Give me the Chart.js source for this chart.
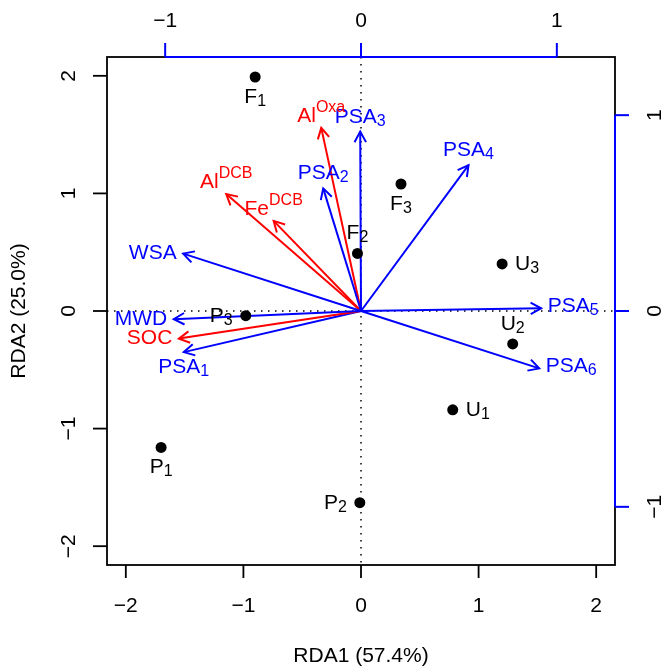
<!DOCTYPE html>
<html>
<head>
<meta charset="utf-8">
<script src="https://cdn.jsdelivr.net/npm/chart.js@4.4.1/dist/chart.umd.min.js"></script>
<style>
  html, body { margin: 0; padding: 0; background: #fff; }
  canvas { display: block; }
</style>
</head>
<body>
<canvas id="rda" width="667" height="667"></canvas>
<script>
// site scores (bottom / left axes)
const siteBase = ['F', 'F', 'F', 'U', 'U', 'U', 'P', 'P', 'P'];
const siteSub = ['1', '2', '3', '1', '2', '3', '1', '2', '3'];
const siteX = [-0.90, -0.03, 0.34, 0.78, 1.29, 1.20, -1.70, -0.01, -0.98];
const siteY = [1.99, 0.49, 1.08, -0.84, -0.28, 0.40, -1.16, -1.63, -0.04];

// explanatory variable arrows (top / right axes)
const varBase = ['WSA', 'MWD', 'SOC', 'PSA', 'PSA', 'PSA', 'PSA', 'PSA', 'PSA', 'Al', 'Al', 'Fe'];
const varSub = ['', '', '', '1', '2', '3', '4', '5', '6', '', '', ''];
const varSup = ['', '', '', '', '', '', '', '', '', 'Oxa', 'DCB', 'DCB'];
const varX = [-0.908, -0.956, -0.930, -0.905, -0.193, -0.004, 0.549, 0.920, 0.910, -0.203, -0.688, -0.446];
const varY = [0.293, -0.042, -0.141, -0.210, 0.626, 0.916, 0.745, 0.014, -0.293, 0.935, 0.597, 0.460];

// axes
const mainTicks = [-2, -1, 0, 1, 2];
const varTicks = [-1, 0, 1];
const xTitle = 'RDA1 (57.4%)';
const yTitle = 'RDA2 (25.0%)';

// styling
const BLUE = '#0000ff';
const RED = '#ff0000';
const redVars = [2, 9, 10, 11]; // SOC and the Al/Fe oxides
const sitePos = [1, 3, 1, 4, 3, 4, 1, 2, 2];   // R text() pos codes
const varPos = [2, 2, 2, 1, 3, 3, 3, 4, 4, 3, 3, 3];
const FONT = '"Liberation Sans", Arial, Helvetica, sans-serif';
const MINUS = '\u2212';

const fmt = v => (v < 0 ? MINUS + Math.abs(v) : String(v));

// text with optional sub- or superscript, placed like R's text(pos=)
function drawLabel(ctx, x, y, base, sub, sup, pos, offH, offV, dy, color) {
  const F = 21, S = 16, SUB_DROP = 3, SUP_RAISE = 10;
  ctx.font = F + 'px ' + FONT;
  const wb = ctx.measureText(base).width;
  const ext = sub || sup;
  let we = 0;
  if (ext) {
    ctx.font = S + 'px ' + FONT;
    we = ctx.measureText(ext).width;
  }
  const w = wb + we;
  const top = sup ? -(SUP_RAISE + 0.716 * S) : -0.716 * F;
  const bottom = sub ? SUB_DROP : 0;
  let left, by;
  if (pos === 1) { left = x - w / 2; by = y + offV - top; }
  else if (pos === 3) { left = x - w / 2; by = y - offV - bottom; }
  else if (pos === 2) { left = x - offH - w; by = y + dy - (top + bottom) / 2; }
  else { left = x + offH; by = y + dy - (top + bottom) / 2; }
  ctx.fillStyle = color;
  ctx.textAlign = 'left';
  ctx.textBaseline = 'alphabetic';
  ctx.font = F + 'px ' + FONT;
  ctx.fillText(base, left, by);
  if (ext) {
    ctx.font = S + 'px ' + FONT;
    ctx.fillText(ext, left + wb, by + (sub ? SUB_DROP : -SUP_RAISE));
  }
}

function line(ctx, x1, y1, x2, y2) {
  ctx.beginPath();
  ctx.moveTo(x1, y1);
  ctx.lineTo(x2, y2);
  ctx.stroke();
}

function rotText(ctx, txt, x, y) {
  ctx.save();
  ctx.translate(x, y);
  ctx.rotate(-Math.PI / 2);
  ctx.fillText(txt, 0, 0);
  ctx.restore();
}

const biplotDecor = {
  id: 'biplotDecor',
  beforeDatasetsDraw(chart) {
    const { ctx, chartArea: a, scales } = chart;
    const x0 = scales.x.getPixelForValue(0);
    const y0 = scales.y.getPixelForValue(0);
    ctx.save();
    ctx.strokeStyle = '#000';
    ctx.lineWidth = 1.5;
    ctx.setLineDash([1.5, 5.5]);
    line(ctx, x0, a.top, x0, a.bottom);
    line(ctx, a.left, y0, a.right, y0);
    ctx.restore();
  },
  afterDatasetsDraw(chart) {
    const { ctx, chartArea: a, scales } = chart;
    ctx.save();

    // arrow heads and variable labels
    for (let i = 0; i < varX.length; i++) {
      const pts = chart.getDatasetMeta(i + 1).data;
      const p0 = pts[0], p1 = pts[1];
      const col = redVars.includes(i) ? RED : BLUE;
      const ang = Math.atan2(p1.y - p0.y, p1.x - p0.x);
      const L = 12, h = 0.5;
      ctx.strokeStyle = col;
      ctx.lineWidth = 2;
      ctx.beginPath();
      ctx.moveTo(p1.x - L * Math.cos(ang - h), p1.y - L * Math.sin(ang - h));
      ctx.lineTo(p1.x, p1.y);
      ctx.lineTo(p1.x - L * Math.cos(ang + h), p1.y - L * Math.sin(ang + h));
      ctx.stroke();
      drawLabel(ctx, p1.x, p1.y, varBase[i], varSub[i], varSup[i], varPos[i], 6.5, 6, -2, col);
    }

    // site labels
    const sp = chart.getDatasetMeta(0).data;
    sp.forEach((p, i) => {
      drawLabel(ctx, p.x, p.y, siteBase[i], siteSub[i], '', sitePos[i], 13, 11, 0, '#000');
    });

    // frame
    ctx.strokeStyle = '#000';
    ctx.lineWidth = 1.8;
    ctx.strokeRect(a.left, a.top, a.right - a.left, a.bottom - a.top);

    // bottom and left axes
    ctx.fillStyle = '#000';
    ctx.font = '21px ' + FONT;
    ctx.textAlign = 'center';
    ctx.textBaseline = 'alphabetic';
    mainTicks.forEach(v => {
      const px = scales.x.getPixelForValue(v);
      line(ctx, px, a.bottom, px, a.bottom + 13);
      ctx.fillText(fmt(v), px, a.bottom + 47);
      const py = scales.y.getPixelForValue(v);
      line(ctx, a.left, py, a.left - 14, py);
      rotText(ctx, fmt(v), a.left - 32, py);
    });
    ctx.fillText(xTitle, (a.left + a.right) / 2, 662);
    rotText(ctx, yTitle, 25, (a.top + a.bottom) / 2);

    // top and right axes for the arrows
    ctx.strokeStyle = BLUE;
    ctx.lineWidth = 2;
    const tx1 = scales.x2.getPixelForValue(varTicks[0]);
    const tx2 = scales.x2.getPixelForValue(varTicks[varTicks.length - 1]);
    line(ctx, tx1, a.top, tx2, a.top);
    const ty1 = scales.y2.getPixelForValue(varTicks[0]);
    const ty2 = scales.y2.getPixelForValue(varTicks[varTicks.length - 1]);
    line(ctx, a.right, ty1, a.right, ty2);
    ctx.fillStyle = '#000';
    varTicks.forEach(v => {
      const px = scales.x2.getPixelForValue(v);
      line(ctx, px, a.top, px, a.top - 14);
      ctx.fillText(fmt(v), px, 27);
      const py = scales.y2.getPixelForValue(v);
      line(ctx, a.right, py, a.right + 14, py);
      rotText(ctx, fmt(v), 661, py);
    });
    ctx.restore();
  }
};

const datasets = [{
  data: siteX.map((x, i) => ({ x, y: siteY[i] })),
  xAxisID: 'x',
  yAxisID: 'y',
  pointRadius: 5.5,
  pointBackgroundColor: '#000',
  pointBorderWidth: 0,
  showLine: false
}];
varX.forEach((x, i) => {
  const col = redVars.includes(i) ? RED : BLUE;
  datasets.push({
    data: [{ x: 0, y: 0 }, { x, y: varY[i] }],
    xAxisID: 'x2',
    yAxisID: 'y2',
    showLine: true,
    borderColor: col,
    borderWidth: 2,
    pointRadius: 0
  });
});

new Chart(document.getElementById('rda'), {
  type: 'scatter',
  data: { datasets },
  options: {
    responsive: false,
    animation: false,
    devicePixelRatio: 1,
    events: [],
    layout: { padding: { left: 107, right: 52, top: 57, bottom: 102 } },
    plugins: { legend: { display: false }, tooltip: { enabled: false } },
    scales: {
      x: { type: 'linear', min: -2.16, max: 2.16, display: false },
      y: { type: 'linear', min: -2.16, max: 2.16, display: false },
      x2: { type: 'linear', min: -1.297, max: 1.297, display: false },
      y2: { type: 'linear', min: -1.297, max: 1.297, display: false }
    }
  },
  plugins: [biplotDecor]
});
</script>
</body>
</html>
